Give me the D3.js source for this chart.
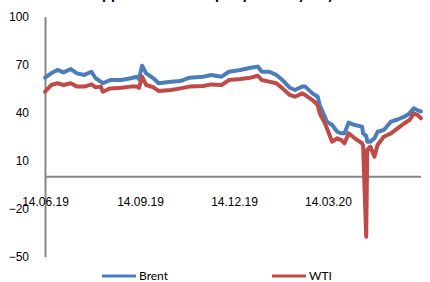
<!DOCTYPE html>
<html>
<head>
<meta charset="utf-8">
<script src="https://cdn.jsdelivr.net/npm/d3@7"></script>
<style>
  body { margin: 0; background: #fff; }
  svg { display: block; font-family: Lato, "Noto Sans", sans-serif; }
  .axis path { stroke: #868686; stroke-width: 2; }
  .axis text { font-size: 12px; fill: #000; }
</style>
</head>
<body>
<div id="chart"></div>
<script>

// data
const dates = ["2019-06-14","2019-06-20","2019-06-26","2019-07-02","2019-07-09","2019-07-15","2019-07-22","2019-07-29",
  "2019-08-02","2019-08-07","2019-08-09","2019-08-16","2019-08-27","2019-09-05","2019-09-11","2019-09-13","2019-09-16",
  "2019-09-20","2019-09-27","2019-10-02","2019-10-14","2019-10-23","2019-11-01","2019-11-14","2019-11-22","2019-12-02",
  "2019-12-09","2019-12-20","2019-12-30","2020-01-06","2020-01-10","2020-01-17","2020-01-24","2020-01-30","2020-02-06",
  "2020-02-11","2020-02-18","2020-02-21","2020-02-28","2020-03-04","2020-03-06","2020-03-11","2020-03-13","2020-03-18",
  "2020-03-23","2020-03-27","2020-03-30","2020-04-03","2020-04-09","2020-04-16","2020-04-17","2020-04-20","2020-04-21",
  "2020-04-24","2020-04-28","2020-05-01","2020-05-07","2020-05-14","2020-05-21","2020-05-27","2020-06-01","2020-06-05",
  "2020-06-09","2020-06-12"];
const brent = [61.9,64.6,66.7,65.2,67.3,64.6,63.6,65.6,
  61.5,59.4,58.4,60.4,60.4,61.5,62.5,61.0,69.4,
  64.6,61.5,58.4,59.4,59.8,61.9,62.5,63.6,62.5,
  65.6,66.7,68.1,68.8,65.6,65.6,63.6,60.4,55.6,
  54.2,56.3,56.3,52.1,50.0,44.8,37.5,34.4,32.3,
  28.1,27.1,27.1,33.8,32.3,31.3,27.1,25.5,21.9,
  21.9,24.0,28.1,29.2,34.4,35.9,37.5,39.6,42.8,
  41.5,40.8];
const wti = [53.1,57.3,58.4,57.3,58.4,56.3,56.3,57.7,
  55.9,56.3,53.1,55.2,55.6,56.3,56.3,55.5,62.5,
  57.3,55.9,53.6,54.2,55.2,56.3,56.7,57.7,57.3,
  60.4,61.1,61.9,63.1,60.4,59.4,58.4,55.2,51.1,
  50.0,52.1,51.0,47.9,44.8,39.6,33.4,30.3,21.9,
  24.0,22.9,20.9,27.1,24.0,20.9,19.5,-37.5,16.7,
  18.8,12.5,19.8,25.0,27.1,30.5,33.4,35.4,39.6,
  38.5,36.5];
const yTicks = [-50, -20, 10, 40, 70, 100];
const xTicks = ["2019-06-14","2019-09-14","2019-12-14","2020-03-14"];
const seriesNames = ["Brent", "WTI"];
const colors = ["#4a7ebb", "#be4b48"];

const width = 430, height = 282;
const parse = d3.timeParse("%Y-%m-%d");

const svg = d3.select("#chart").append("svg")
    .attr("width", width)
    .attr("height", height);

let x = d3.scaleTime()
    .domain([parse("2019-06-14"), parse("2020-06-14")])
    .range([45, 423]);
let y = d3.scaleLinear()
    .domain([-50, 100])
    .range([256.7, 16.7]);

// title, mostly cut off at the top like in the picture
svg.append("text")
    .attr("x", 213)
    .attr("y", -1)
    .attr("text-anchor", "middle")
    .style("font-size", "16px")
    .style("font-weight", "bold")
    .text("Approximate oil spot prices by day");

let yAxis = svg.append("g")
    .attr("class", "axis")
    .attr("transform", "translate(45,0)")
    .call(d3.axisLeft(y).tickValues(yTicks).tickSize(0).tickPadding(16));

let xAxis = svg.append("g")
    .attr("class", "axis")
    .attr("transform", "translate(0," + y(0) + ")")
    .call(d3.axisBottom(x)
        .tickValues(xTicks.map(parse))
        .tickSize(0)
        .tickFormat(d3.timeFormat("%d.%m.%y")));
xAxis.select(".domain").attr("d", "M45,0H421");
xAxis.selectAll("text").attr("y", 29).attr("dy", 0);

let line = d3.line()
    .x((d, i) => x(parse(dates[i])))
    .y(d => y(d));

[brent, wti].forEach(function(s, k) {
    svg.append("path")
        .attr("d", line(s))
        .attr("fill", "none")
        .attr("stroke", colors[k])
        .attr("stroke-width", 4)
        .attr("stroke-linejoin", "round")
        .attr("stroke-linecap", "round");
});

// legend
let legX = [102, 272];
seriesNames.forEach(function(n, k) {
    svg.append("line")
        .attr("x1", legX[k]).attr("x2", legX[k] + 34)
        .attr("y1", 276).attr("y2", 276)
        .attr("stroke", colors[k])
        .attr("stroke-width", 3);
    svg.append("text")
        .attr("x", legX[k] + 37)
        .attr("y", 276)
        .attr("dy", "0.35em")
        .style("font-size", "12px")
        .text(n);
});

</script>
</body>
</html>
